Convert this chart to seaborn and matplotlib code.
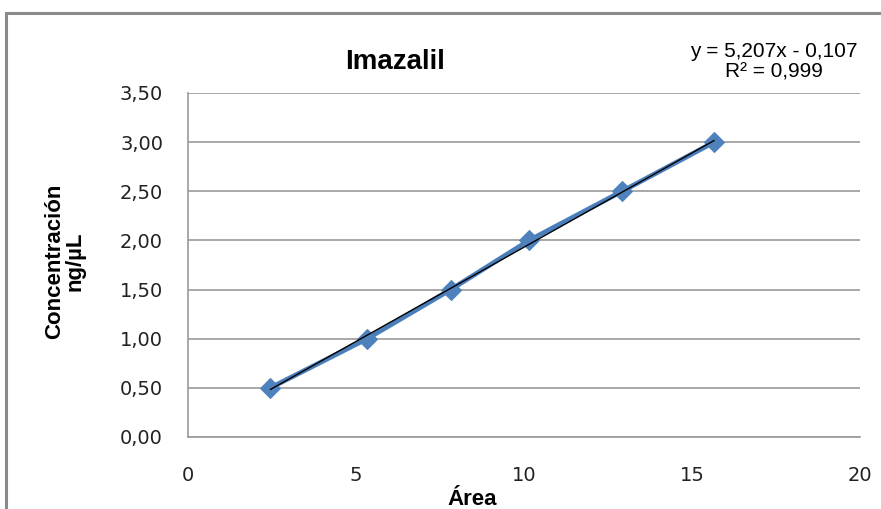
import matplotlib
matplotlib.use("Agg")
import matplotlib.pyplot as plt
import matplotlib.patches as mpatches
from matplotlib.ticker import FuncFormatter, MultipleLocator
import seaborn as sns
import pandas as pd

# calibration points
area = [2.45, 5.33, 7.82, 10.15, 12.92, 15.66]
conc = [0.50, 1.00, 1.50, 2.00, 2.50, 3.00]

df = pd.DataFrame({"area": area, "conc": conc})

sns.set_style("white")
plt.rcParams["font.family"] = ["DejaVu Sans"]
plt.rcParams["text.color"] = "black"
plt.rcParams["axes.labelcolor"] = "black"

W, H = 881, 509
fig = plt.figure(figsize=(W / 100, H / 100), dpi=100)
ax = fig.add_axes([188 / W, 72 / H, 672 / W, 344 / H])

# outer chart frame (cut off at right and bottom like the screenshot)
fig.patches.append(mpatches.Rectangle((6 / W, -0.1), 1.1, (H - 13) / H + 0.1,
                                      transform=fig.transFigure, fill=False,
                                      edgecolor="#8a8a8a", lw=2.2))

# series
sns.lineplot(data=df, x="area", y="conc", ax=ax, color="#4A7EBB", lw=3.5,
             marker="D", markersize=10, markerfacecolor="#4F81BD",
             markeredgecolor="#4F81BD", zorder=3)
# linear trendline
sns.regplot(data=df, x="area", y="conc", ax=ax, scatter=False, ci=None,
            line_kws={"color": "black", "lw": 1, "zorder": 4})

ax.set_xlim(0, 20)
ax.set_ylim(0, 3.5)
ax.xaxis.set_major_locator(MultipleLocator(5))
ax.yaxis.set_major_locator(MultipleLocator(0.5))
ax.yaxis.set_major_formatter(FuncFormatter(lambda v, _: f"{v:.2f}".replace(".", ",")))

ax.grid(axis="y", color="#9a9a9a", lw=1.2)
ax.grid(axis="x", visible=False)
for s in ["top", "right"]:
    ax.spines[s].set_visible(False)
for s in ["left", "bottom"]:
    ax.spines[s].set_color("#9a9a9a")
    ax.spines[s].set_linewidth(1.2)

ax.tick_params(axis="both", direction="out", length=7, width=1, color="#9a9a9a",
               labelsize=14, labelcolor="#222222")
ax.tick_params(axis="y", pad=11)
ax.tick_params(axis="x", pad=14)

ax.set_xlabel("Área", fontsize=16, fontweight="bold", family="Liberation Sans")
ax.xaxis.set_label_coords((472 - 188) / 672, (437 - 505) / 344)
ax.xaxis.label.set_verticalalignment("baseline")

ax.set_ylabel("Concentración\nng/µL", fontsize=16, fontweight="bold",
              family="Liberation Sans", linespacing=0.95)
ax.yaxis.set_label_coords((65 - 188) / 672, (437 - 261) / 344)
ax.yaxis.label.set_verticalalignment("center")

fig.text(395 / W, 1 - 69 / H, "Imazalil", ha="center", va="baseline",
         fontsize=20, fontweight="bold", family="Liberation Sans")
fig.text(774 / W, 1 - 57 / H, "y = 5,207x - 0,107", ha="center", va="baseline",
         fontsize=15, family="Liberation Sans")
fig.text(774 / W, 1 - 77 / H, "R² = 0,999", ha="center", va="baseline",
         fontsize=15, family="Liberation Sans")

fig.savefig("out.png", dpi=100)
